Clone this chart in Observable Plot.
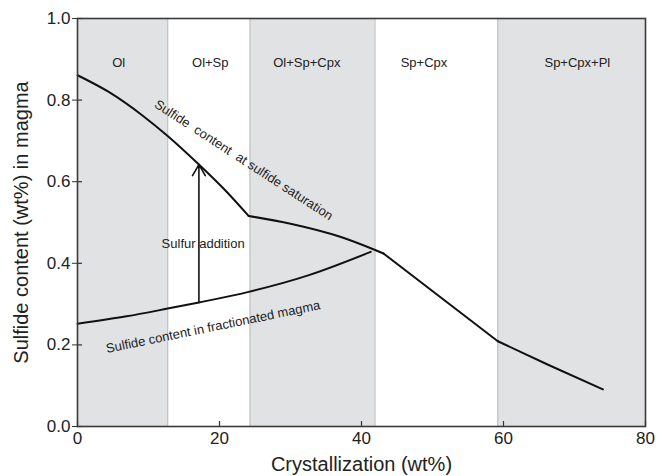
<!DOCTYPE html>
<html>
<head>
<meta charset="utf-8">
<script src="https://cdn.jsdelivr.net/npm/d3@7"></script>
<script src="https://cdn.jsdelivr.net/npm/@observablehq/plot@0.6"></script>
<style>
  html, body { margin: 0; padding: 0; background: #fff; }
  #chart { width: 666px; height: 476px; }
</style>
</head>
<body>
<div id="chart"></div>
<script>
const xTicks = [0, 20, 40, 60, 80];
const yTicks = [0, 0.2, 0.4, 0.6, 0.8, 1.0];

const bandStart = [0, 24.3, 59.2];
const bandEnd = [12.7, 41.9, 80];
const fieldEdges = [12.7, 24.3, 41.9, 59.2];
const fieldNames = ["Ol", "Ol+Sp", "Ol+Sp+Cpx", "Sp+Cpx", "Sp+Cpx+Pl"];
const fieldLabelX = [5.8, 18.7, 32.3, 48.8, 70.4];
const fieldLabelY = 0.892;

// saturation curve, split into segments at its kinks
const saturationX =   [0, 4.4, 9.1, 12.7, 17.1, 20.8, 24.1,   24.1, 30.0, 37.0, 42.0, 43.1,   43.1, 59.2,   59.2, 66.2, 74.0];
const saturationY =   [0.861, 0.820, 0.763, 0.712, 0.642, 0.579, 0.516,   0.516, 0.497, 0.465, 0.432, 0.424,   0.424, 0.209,   0.209, 0.152, 0.091];
const saturationSeg = [1, 1, 1, 1, 1, 1, 1,   2, 2, 2, 2, 2,   3, 3,   4, 4, 4];

const fractX = [0, 6.9, 12.7, 17.1, 24.1, 32.6, 41.3];
const fractY = [0.252, 0.270, 0.289, 0.304, 0.330, 0.371, 0.428];

const additionX = 17.1;
const additionFrom = 0.304;
const additionTo = 0.642;

const notes = [
  {text: "Sulfur addition", x: 17.7, y: 0.447, rotate: 0},
  {text: "Sulfide\u00a0\u00a0content\u00a0\u00a0at sulfide saturation", x: 23.4, y: 0.653, rotate: 33},
  {text: "Sulfide content in fractionated magma", x: 19.1, y: 0.244, rotate: -11.6}
];

const xTitle = "Crystallization (wt%)";
const yTitle = "Sulfide content (wt%) in magma";

const bands = bandStart.map((s, i) => ({x1: s, x2: bandEnd[i]}));
const fields = fieldNames.map((n, i) => ({name: n, x: fieldLabelX[i], y: fieldLabelY}));
const saturation = saturationX.map((x, i) => ({x, y: saturationY[i], seg: saturationSeg[i]}));
const fract = fractX.map((x, i) => ({x, y: fractY[i]}));

const chart = Plot.plot({
  width: 666,
  height: 476,
  marginLeft: 77,
  marginRight: 21,
  marginTop: 18,
  marginBottom: 50,
  style: {fontFamily: "'Liberation Sans', Arial, Helvetica, sans-serif", fontSize: "17px", color: "#222", background: "#fff"},
  x: {domain: [0, 80]},
  y: {domain: [0, 1]},
  marks: [
    Plot.rect(bands, {x1: "x1", x2: "x2", fill: "#e1e2e4"}),
    Plot.ruleX(fieldEdges, {stroke: "#c4c4c4", strokeWidth: 1.3}),
    Plot.text(fields, {x: "x", y: "y", text: "name", fontSize: 13, fill: "#222"}),
    Plot.line(saturation, {x: "x", y: "y", z: "seg", stroke: "#111", strokeWidth: 2, curve: "monotone-x", strokeLinejoin: "round"}),
    Plot.line(fract, {x: "x", y: "y", stroke: "#111", strokeWidth: 2, curve: "monotone-x"}),
    Plot.arrow([0], {x1: () => additionX, x2: () => additionX, y1: () => additionFrom, y2: () => additionTo, stroke: "#111", strokeWidth: 1.6, headLength: 12, headAngle: 60}),
    Plot.text(notes, {x: "x", y: "y", text: "text", rotate: "rotate", fontSize: 13, fill: "#222"}),
    Plot.tickX(xTicks, {x: d => d, insetTop: 403, stroke: "#333", strokeWidth: 1.2}),
    Plot.tickY(yTicks, {y: d => d, insetRight: 563, stroke: "#333", strokeWidth: 1.2}),
    Plot.frame({stroke: "#3a3a3a", strokeWidth: 1.6}),
    Plot.axisX(xTicks, {tickSize: 0, tickPadding: 5, tickFormat: d => String(d), label: null, fontSize: 17, fill: "#222"}),
    Plot.axisY(yTicks, {tickSize: 5, tickPadding: 2, tickFormat: d3.format(".1f"), label: null, fontSize: 17, stroke: "#333", fill: "#222"}),
    Plot.text([xTitle], {frameAnchor: "bottom", dy: 38, lineAnchor: "middle", textAnchor: "middle", text: d => d, fontSize: 20, fill: "#222"}),
    Plot.text([yTitle], {frameAnchor: "left", dx: -56, rotate: -90, textAnchor: "middle", lineAnchor: "middle", text: d => d, fontSize: 20, fill: "#222"})
  ]
});
document.getElementById("chart").appendChild(chart);
</script>
</body>
</html>
